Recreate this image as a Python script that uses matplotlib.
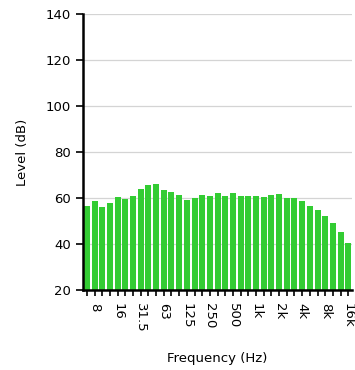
import matplotlib
matplotlib.use('Agg')
import matplotlib.pyplot as plt
import numpy as np

# 1/3-octave bands, 6.3 Hz to 16 kHz
bands = ['6.3', '8', '10', '12.5', '16', '20', '25', '31.5', '40', '50',
         '63', '80', '100', '125', '160', '200', '250', '315', '400', '500',
         '630', '800', '1k', '1.25k', '1.6k', '2k', '2.5k', '3.15k', '4k', '5k',
         '6.3k', '8k', '10k', '12.5k', '16k']
levels = [56.5, 58.6, 56.0, 57.8, 60.4, 59.7, 60.9, 63.8, 65.7, 66.1,
          63.3, 62.8, 61.3, 59.1, 60.1, 61.3, 60.9, 62.3, 60.9, 62.0,
          60.9, 60.9, 61.0, 60.5, 61.3, 61.7, 59.9, 60.0, 58.6, 56.7,
          54.9, 52.2, 49.0, 45.2, 40.3]
label_bands = ['8', '16', '31.5', '63', '125', '250', '500', '1k', '2k', '4k', '8k', '16k']

fig = plt.figure(figsize=(3.55, 3.7), dpi=100)
ax = fig.add_axes([0.234, 0.216, 0.758, 0.746])

x = np.arange(len(bands))
ax.bar(x, levels, width=0.78, color='#33cc33', zorder=2)

ax.set_xlim(-0.5, len(bands) - 0.5)
ax.set_ylim(20, 140)
ax.set_yticks(np.arange(20, 141, 20))
ax.yaxis.grid(True, color='#d4d4d4', linewidth=0.9, zorder=0)

# every band gets a tick, only every third one a label
ax.set_xticks(x)
ax.set_xticklabels([b if b in label_bands else '' for b in bands],
                   rotation=-90, fontsize=9.5)
ax.tick_params(axis='x', length=4, width=1.2, color='black', pad=5)
ax.tick_params(axis='y', length=5, width=1.2, color='black', labelsize=9.5)

for s in ['top', 'right']:
    ax.spines[s].set_visible(False)
for s in ['left', 'bottom']:
    ax.spines[s].set_linewidth(1.8)
    ax.spines[s].set_zorder(3)

ax.set_xlabel('Frequency (Hz)', fontsize=9.5, labelpad=14)
ax.set_ylabel('Level (dB)', fontsize=9.5, labelpad=12)

fig.savefig('out.png', dpi=100)
